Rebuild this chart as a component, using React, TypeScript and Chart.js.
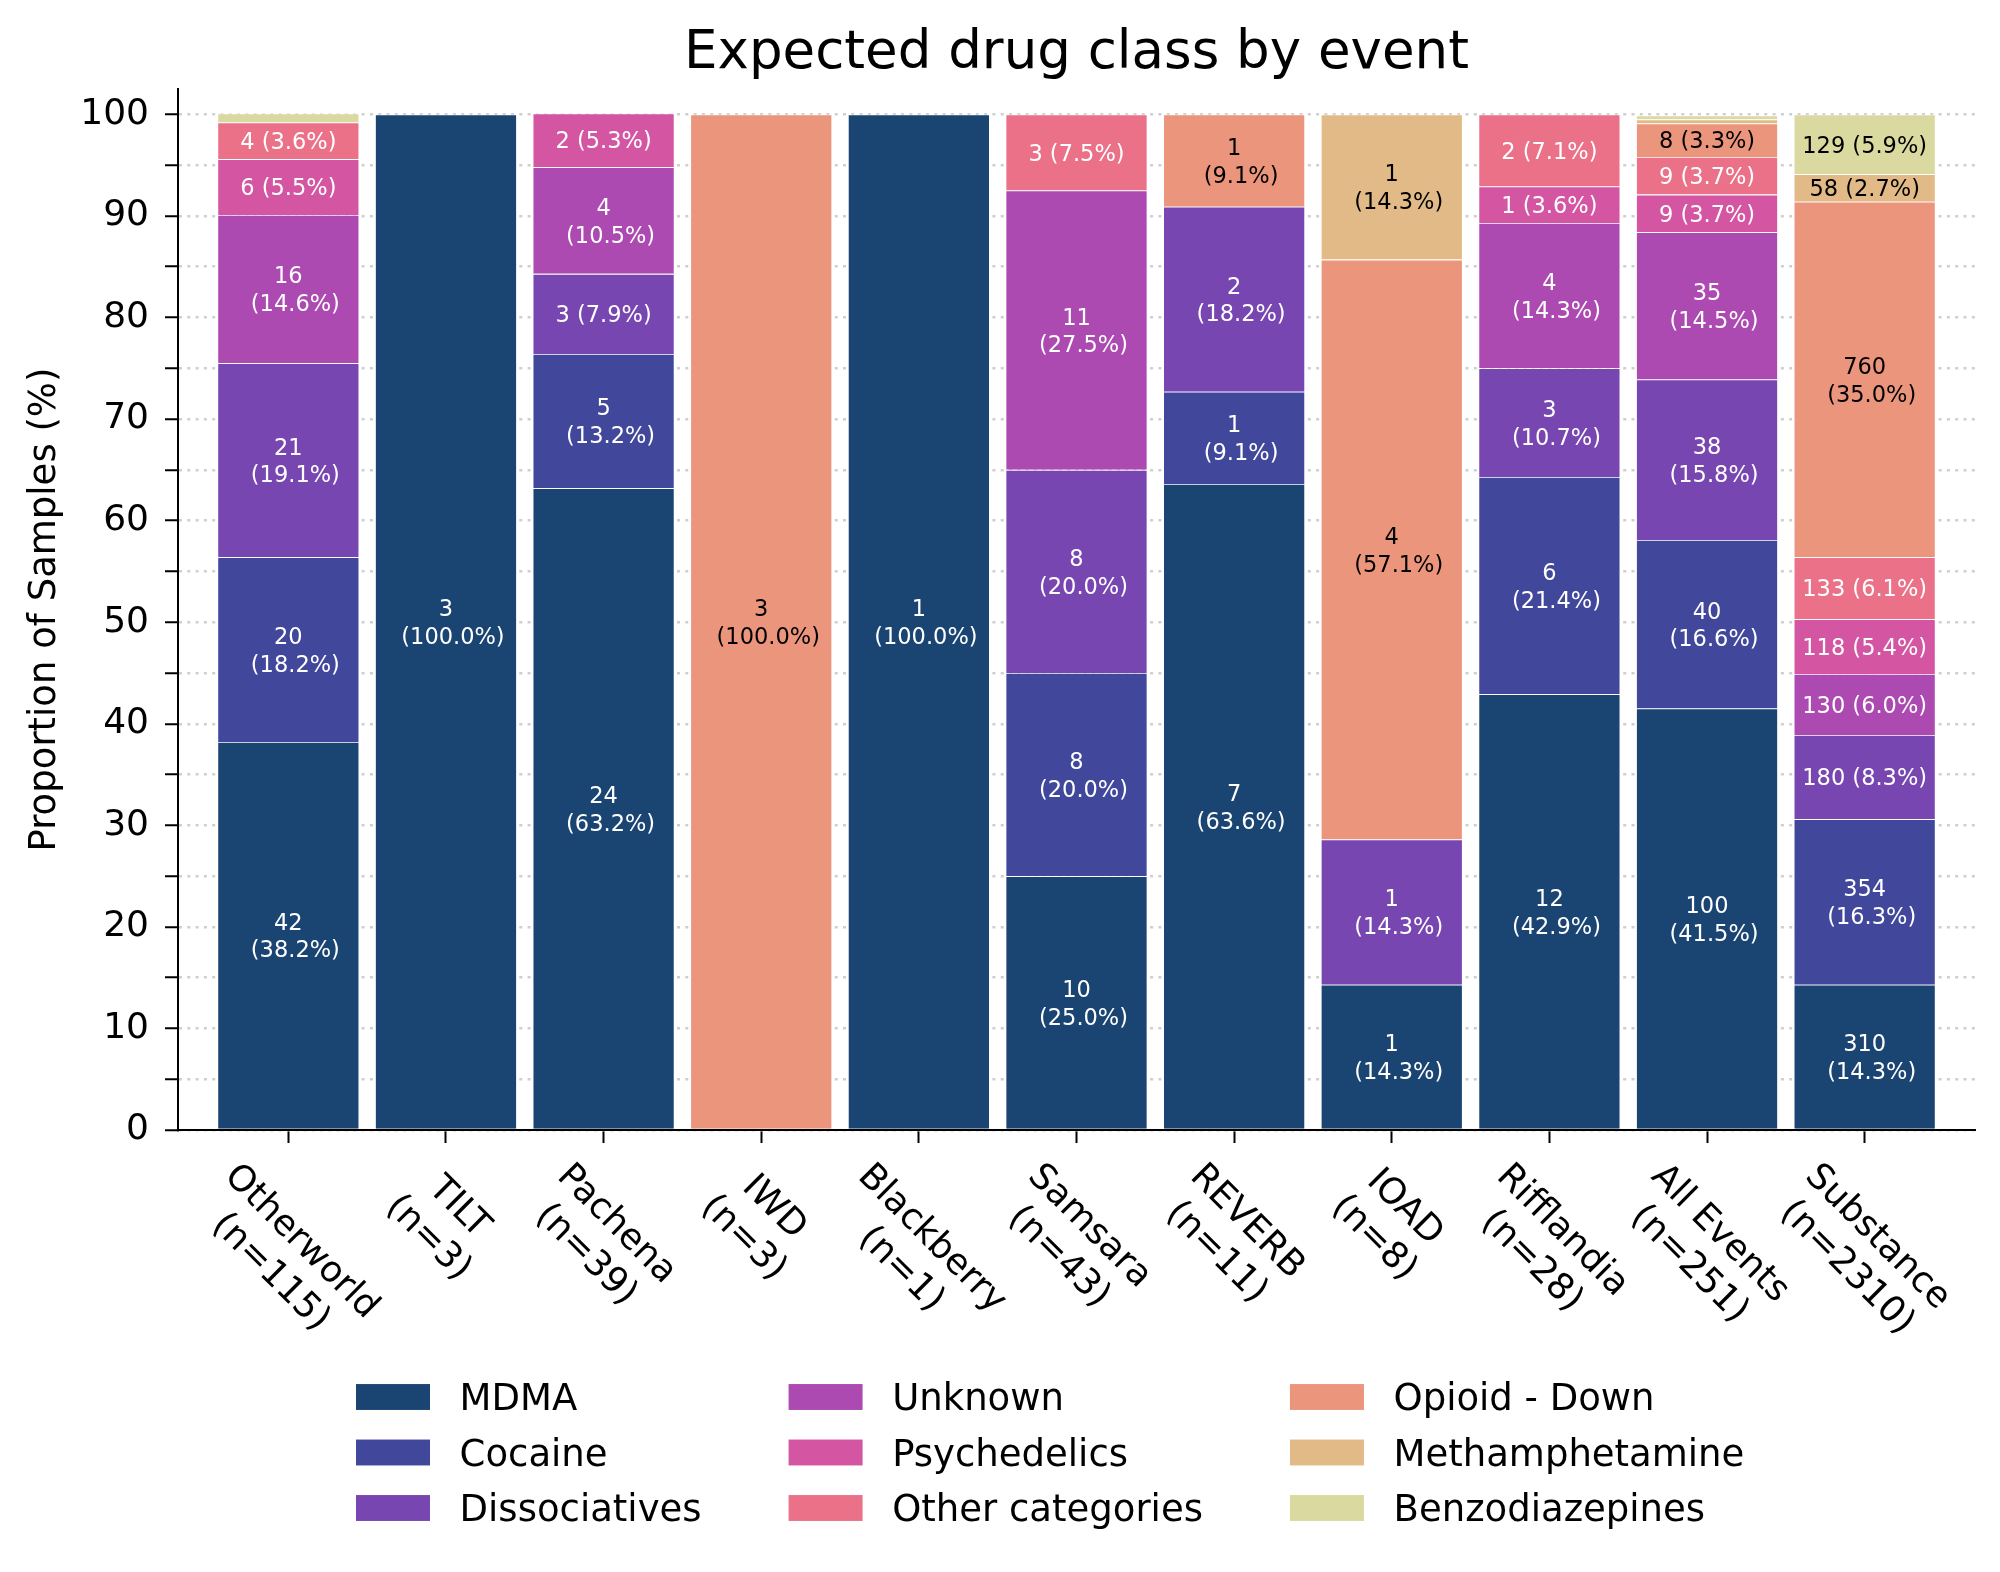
import { useEffect, useRef } from 'react';
import { Chart, registerables } from 'chart.js';

Chart.register(...registerables);

const FONT = "'DejaVu Sans', 'Liberation Sans', sans-serif";

// ---------- data ----------
const categories = ['Otherworld', 'TILT', 'Pachena', 'IWD', 'Blackberry', 'Samsara', 'REVERB', 'IOAD', 'Rifflandia', 'All Events', 'Substance'];
const sampleSizes = [115, 3, 39, 3, 1, 43, 11, 8, 28, 251, 2310];

const seriesNames = ['MDMA', 'Cocaine', 'Dissociatives', 'Unknown', 'Psychedelics', 'Other categories', 'Opioid - Down', 'Methamphetamine', 'Benzodiazepines'];
const seriesColors = ['#1a4573', '#41479b', '#7846b1', '#ac4ab2', '#d456a3', '#ea7188', '#ec957d', '#e2ba87', '#dad9a0'];
const seriesTextColors = ['#ffffff', '#ffffff', '#ffffff', '#ffffff', '#ffffff', '#ffffff', '#000000', '#000000', '#000000'];

const mdmaCounts = [42, 3, 24, 0, 1, 10, 7, 1, 12, 100, 310];
const mdmaPct = [38.2, 100.0, 63.2, 0, 100.0, 25.0, 63.6, 14.3, 42.9, 41.5, 14.3];
const cocaineCounts = [20, 0, 5, 0, 0, 8, 1, 0, 6, 40, 354];
const cocainePct = [18.2, 0, 13.2, 0, 0, 20.0, 9.1, 0, 21.4, 16.6, 16.3];
const dissociativesCounts = [21, 0, 3, 0, 0, 8, 2, 1, 3, 38, 180];
const dissociativesPct = [19.1, 0, 7.9, 0, 0, 20.0, 18.2, 14.3, 10.7, 15.8, 8.3];
const unknownCounts = [16, 0, 4, 0, 0, 11, 0, 0, 4, 35, 130];
const unknownPct = [14.6, 0, 10.5, 0, 0, 27.5, 0, 0, 14.3, 14.5, 6.0];
const psychedelicsCounts = [6, 0, 2, 0, 0, 0, 0, 0, 1, 9, 118];
const psychedelicsPct = [5.5, 0, 5.3, 0, 0, 0, 0, 0, 3.6, 3.7, 5.4];
const otherCounts = [4, 0, 0, 0, 0, 3, 0, 0, 2, 9, 133];
const otherPct = [3.6, 0, 0, 0, 0, 7.5, 0, 0, 7.1, 3.7, 6.1];
const opioidCounts = [0, 0, 0, 3, 0, 0, 1, 4, 0, 8, 760];
const opioidPct = [0, 0, 0, 100.0, 0, 0, 9.1, 57.1, 0, 3.3, 35.0];
const methCounts = [0, 0, 0, 0, 0, 0, 0, 1, 0, 1, 58];
const methPct = [0, 0, 0, 0, 0, 0, 0, 14.3, 0, 0.4, 2.7];
const benzoCounts = [1, 0, 0, 0, 0, 0, 0, 0, 0, 1, 129];
const benzoPct = [0.9, 0, 0, 0, 0, 0, 0, 0, 0, 0.4, 5.9];

const seriesCounts = [mdmaCounts, cocaineCounts, dissociativesCounts, unknownCounts, psychedelicsCounts, otherCounts, opioidCounts, methCounts, benzoCounts];
const seriesPct = [mdmaPct, cocainePct, dissociativesPct, unknownPct, psychedelicsPct, otherPct, opioidPct, methPct, benzoPct];

const yTickValues = [0, 5, 10, 15, 20, 25, 30, 35, 40, 45, 50, 55, 60, 65, 70, 75, 80, 85, 90, 95, 100];

const TITLE = 'Expected drug class by event';
const Y_TITLE = 'Proportion of Samples (%)';

// ---------- custom drawing ----------
const customPlugin = {
  id: 'customText',
  afterDatasetsDraw(chart: any) {
    const ctx = chart.ctx as CanvasRenderingContext2D;
    const fs = 22.5;
    ctx.save();
    ctx.font = `${fs}px ${FONT}`;
    ctx.textAlign = 'center';
    ctx.textBaseline = 'alphabetic';
    const half = 0.729 * fs / 2;
    chart.data.datasets.forEach((ds: any, i: number) => {
      const meta = chart.getDatasetMeta(i);
      meta.data.forEach((el: any, j: number) => {
        const pct = seriesPct[i][j];
        const cnt = seriesCounts[i][j];
        if (!pct || pct < 2) return;
        const props = el.getProps(['x', 'y', 'base'], true);
        const cy = (props.y + props.base) / 2;
        ctx.fillStyle = seriesTextColors[i];
        if (pct < 9) {
          ctx.fillText(`${cnt} (${pct.toFixed(1)}%)`, props.x, cy + half);
        } else {
          ctx.fillText(String(cnt), props.x, cy - 13.9 + half);
          ctx.fillText(`(${pct.toFixed(1)}%)`, props.x + 7, cy + 13.9 + half);
        }
      });
    });
    ctx.restore();
  },
  afterDraw(chart: any) {
    const ctx = chart.ctx as CanvasRenderingContext2D;
    const area = chart.chartArea;
    ctx.save();
    // title
    ctx.fillStyle = '#000';
    ctx.font = `53px ${FONT}`;
    ctx.textAlign = 'center';
    ctx.textBaseline = 'alphabetic';
    ctx.fillText(TITLE, (area.left + area.right) / 2, 68);

    // rotated x labels (clockwise 45°)
    const xs = chart.scales.x;
    const xfs = 36;
    const lh = xfs * 1.2;
    ctx.font = `${xfs}px ${FONT}`;
    categories.forEach((cat, j) => {
      const lines = [cat, `(n=${sampleSizes[j]})`];
      const W = Math.max(...lines.map((l) => ctx.measureText(l).width));
      const H = lines.length * lh;
      const top = area.bottom + 13 + 10;
      const cx = xs.getPixelForValue(j);
      const cy = top + (W + H) * Math.SQRT1_2 / 2;
      ctx.save();
      ctx.translate(cx, cy);
      ctx.rotate(Math.PI / 4);
      ctx.textAlign = 'center';
      ctx.textBaseline = 'alphabetic';
      lines.forEach((l, k) => {
        const lineCenter = (k - (lines.length - 1) / 2) * lh;
        ctx.fillText(l, 0, lineCenter + 0.729 * xfs / 2);
      });
      ctx.restore();
    });

    // legend (3 columns, column-major)
    const lfs = 37;
    ctx.font = `${lfs}px ${FONT}`;
    ctx.textAlign = 'left';
    ctx.textBaseline = 'alphabetic';
    const handleW = 2.0 * lfs;
    const handleH = 0.7 * lfs;
    const textPad = 0.8 * lfs;
    const colSpace = 2.0 * lfs + 13;
    const rowCenters = [1397, 1452.5, 1508];
    let colX = 356;
    for (let c = 0; c < 3; c++) {
      let maxW = 0;
      for (let r = 0; r < 3; r++) {
        const idx = c * 3 + r;
        const name = seriesNames[idx];
        const yc = rowCenters[r];
        ctx.fillStyle = seriesColors[idx];
        ctx.fillRect(colX, yc - handleH / 2, handleW, handleH);
        ctx.fillStyle = '#000';
        ctx.fillText(name, colX + handleW + textPad, yc + 0.729 * lfs / 2);
        maxW = Math.max(maxW, ctx.measureText(name).width);
      }
      colX += handleW + textPad + maxW + colSpace;
    }
    ctx.restore();
  },
};

export default function App() {
  const ref = useRef<HTMLCanvasElement>(null);

  useEffect(() => {
    const datasets = seriesNames.map((name, i) => ({
      label: name,
      data: seriesPct[i].map((v, j) => ({ x: j, y: v > 0 ? v : null })),
      backgroundColor: seriesColors[i],
      borderColor: 'rgba(255,255,255,0.85)',
      borderWidth: 0.8,
      barPercentage: 0.9,
      categoryPercentage: 1.0,
    }));

    const chart = new Chart(ref.current as HTMLCanvasElement, {
      type: 'bar',
      data: { datasets } as any,
      plugins: [customPlugin],
      options: {
        responsive: false,
        animation: false,
        devicePixelRatio: 1,
        layout: { padding: { left: 0, right: 25, top: 89, bottom: 0 } },
        plugins: {
          legend: { display: false },
          title: { display: false },
          tooltip: { enabled: false },
        },
        scales: {
          x: {
            type: 'linear',
            stacked: true,
            offset: false,
            min: -0.7,
            max: 10.7,
            z: 1,
            afterBuildTicks: (s: any) => {
              s.ticks = categories.map((_, j) => ({ value: j }));
            },
            afterFit: (s: any) => {
              s.height = 442;
            },
            ticks: {
              autoSkip: false,
              maxRotation: 0,
              callback: () => '',
            },
            grid: {
              display: true,
              offset: false,
              drawOnChartArea: false,
              drawTicks: true,
              tickLength: 13,
              tickColor: '#000',
              tickWidth: 2,
            },
            border: { display: true, color: '#000', width: 2 },
          },
          y: {
            stacked: true,
            min: 0,
            max: 102.5,
            afterBuildTicks: (s: any) => {
              s.ticks = yTickValues.map((v) => ({ value: v }));
            },
            afterFit: (s: any) => {
              s.width = 178;
            },
            ticks: {
              padding: 16,
              color: '#000',
              font: { family: FONT, size: 36 },
              callback: (v: any) => (Number(v) % 10 === 0 ? String(v) : ''),
            },
            grid: {
              display: true,
              drawOnChartArea: true,
              drawTicks: true,
              tickLength: 13,
              tickColor: '#000',
              tickWidth: 2,
              color: '#cfcfcf',
              lineWidth: 2.5,
            },
            border: { display: true, color: '#000', width: 2, dash: [3, 5.3] },
            title: {
              display: true,
              text: Y_TITLE,
              color: '#000',
              font: { family: FONT, size: 37 },
              padding: { top: 23, bottom: 0 },
            },
          },
        },
      } as any,
    });
    return () => chart.destroy();
  }, []);

  return (
    <div style={{ position: 'absolute', left: 0, top: 0, width: 2000, height: 1572, background: '#ffffff' }}>
      <canvas ref={ref} width={2000} height={1572} style={{ width: 2000, height: 1572, display: 'block' }} />
    </div>
  );
}
